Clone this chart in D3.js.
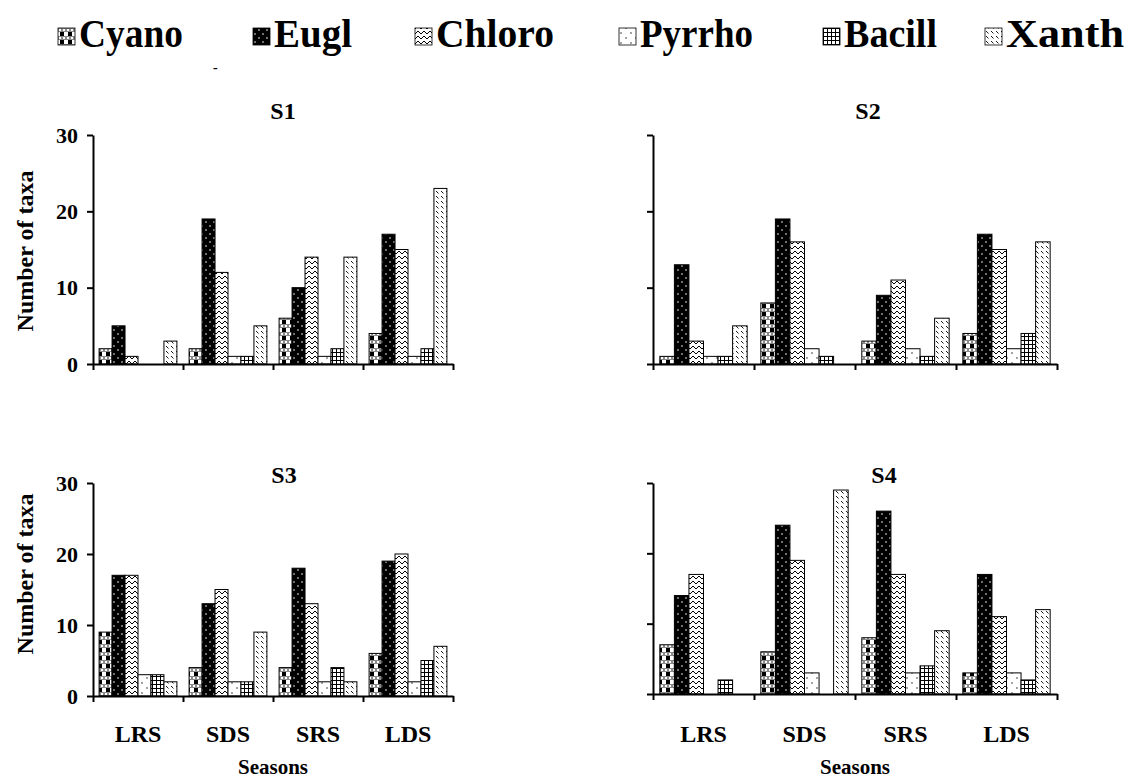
<!DOCTYPE html>
<html><head><meta charset="utf-8">
<script src="https://cdn.jsdelivr.net/npm/d3@7"></script>
<style>
html,body{margin:0;padding:0;background:#fff;}
svg{display:block;}
text{font-family:"Liberation Serif","Times New Roman",serif;font-weight:bold;fill:#000;}
</style></head>
<body>
<svg id="chart" width="1131" height="778"></svg>
<script>
// ---- data ----
const categories = ["LRS", "SDS", "SRS", "LDS"];
const seriesNames = ["Cyano", "Eugl", "Chloro", "Pyrrho", "Bacill", "Xanth"];
const panelNames = ["S1", "S2", "S3", "S4"];
const yTicks = [0, 10, 20, 30];
// values per season: [Cyano, Eugl, Chloro, Pyrrho, Bacill, Xanth]
const s1Values = [[2, 5, 1, 0, 0, 3], [2, 19, 12, 1, 1, 5], [6, 10, 14, 1, 2, 14], [4, 17, 15, 1, 2, 23]];
const s2Values = [[1, 13, 3, 1, 1, 5], [8, 19, 16, 2, 1, 0], [3, 9, 11, 2, 1, 6], [4, 17, 15, 2, 4, 16]];
const s3Values = [[9, 17, 17, 3, 3, 2], [4, 13, 15, 2, 2, 9], [4, 18, 13, 2, 4, 2], [6, 19, 20, 2, 5, 7]];
const s4Values = [[7, 14, 17, 0, 2, 0], [6, 24, 19, 3, 0, 29], [8, 26, 17, 3, 4, 9], [3, 17, 11, 3, 2, 12]];
const yLabel = "Number of taxa";
const xLabel = "Seasons";

const svg = d3.select("#chart");
const defs = svg.append("defs");

// ---- patterns ----
function pat(id, w, h, draw) {
  const p = defs.append("pattern").attr("id", id).attr("patternUnits", "userSpaceOnUse")
    .attr("width", w).attr("height", h);
  draw(p);
}
pat("p0", 8, 8, p => {
  p.append("rect").attr("width", 8).attr("height", 8).attr("fill", "#fff");
  p.append("rect").attr("x", 0).attr("y", 4).attr("width", 8).attr("height", 4).attr("fill", "#8a8a8a");
  p.append("rect").attr("x", 1).attr("y", 5).attr("width", 2).attr("height", 2).attr("fill", "#fff");
  p.append("rect").attr("x", 5).attr("y", 5).attr("width", 2).attr("height", 2).attr("fill", "#fff");
  p.append("rect").attr("x", 2).attr("y", 0).attr("width", 4).attr("height", 4).attr("fill", "#000");
});
pat("p1", 8, 8, p => {
  p.append("rect").attr("width", 8).attr("height", 8).attr("fill", "#000");
  p.append("circle").attr("cx", 2).attr("cy", 2).attr("r", 0.8).attr("fill", "#fff");
  p.append("circle").attr("cx", 6).attr("cy", 6).attr("r", 0.8).attr("fill", "#fff");
});
pat("p2", 6, 5, p => {
  p.append("rect").attr("width", 6).attr("height", 5).attr("fill", "#fff");
  p.append("path").attr("d", "M0,4 L3,1 L6,4").attr("fill", "none").attr("stroke", "#000").attr("stroke-width", 1);
});
pat("p3", 10, 10, p => {
  p.append("rect").attr("width", 10).attr("height", 10).attr("fill", "#fff");
  p.append("circle").attr("cx", 2).attr("cy", 3).attr("r", 0.7).attr("fill", "#000");
  p.append("circle").attr("cx", 7).attr("cy", 8).attr("r", 0.7).attr("fill", "#000");
});
pat("p4", 4, 4, p => {
  p.append("rect").attr("width", 4).attr("height", 4).attr("fill", "#fff");
  p.append("path").attr("d", "M0,0.5 H4 M0.5,0 V4").attr("stroke", "#000").attr("stroke-width", 1);
});
pat("p5", 5, 5, p => {
  p.append("rect").attr("width", 5).attr("height", 5).attr("fill", "#fff");
  p.append("path").attr("d", "M1,1 L3.5,3.5").attr("stroke", "#000").attr("stroke-width", 0.9);
});
const fillFor = d3.scaleOrdinal().domain(seriesNames).range(seriesNames.map((_, i) => `url(#p${i})`));

// ---- legend ----
const legendX = d3.scaleOrdinal().domain(seriesNames).range([58, 253, 415, 619, 823, 985]);
const legendWidths = d3.scaleOrdinal().domain(seriesNames).range([104, 78, 118, 113, 93, 118]);
const lg = svg.append("g");
seriesNames.forEach(s => {
  const g = lg.append("g").attr("transform", `translate(${legendX(s)},0)`);
  g.append("rect").attr("x", 0).attr("y", 28).attr("width", 17).attr("height", 17)
    .attr("fill", fillFor(s)).attr("stroke", "#000").attr("stroke-width", 0.8);
  g.append("text").attr("x", 21).attr("y", 47).attr("font-size", 40)
    .attr("textLength", legendWidths(s)).attr("lengthAdjust", "spacingAndGlyphs").text(s);
});
svg.append("text").attr("x", 213).attr("y", 72).attr("font-size", 14).text("-");

// ---- panels ----
const panelValues = { S1: s1Values, S2: s2Values, S3: s3Values, S4: s4Values };
const layout = {
  S1: { x0: 93, x1: 453, yTop: 135, y0: 364, tickLabels: true, xLabels: false, titleX: 283, titleY: 119, labelY: 251 },
  S2: { x0: 653, x1: 1057, yTop: 135, y0: 364, tickLabels: false, xLabels: false, titleX: 868, titleY: 119, labelY: 251 },
  S3: { x0: 93, x1: 453, yTop: 483, y0: 696, tickLabels: true, xLabels: true, titleX: 284, titleY: 483, labelY: 574 },
  S4: { x0: 653, x1: 1057, yTop: 483, y0: 694, tickLabels: false, xLabels: true, titleX: 884, titleY: 483, labelY: 574 }
};

panelNames.forEach(name => {
  const L = layout[name];
  const vals = panelValues[name];
  const g = svg.append("g");
  const y = d3.scaleLinear().domain([0, 30]).range([L.y0, L.yTop]);
  const x = d3.scaleBand().domain(categories).range([L.x0, L.x1]).paddingInner(0).paddingOuter(0);
  const xb = d3.scaleBand().domain(seriesNames).range([0, x.bandwidth()]).paddingInner(0).paddingOuter(0.47);
  const xLin = d3.scaleLinear().domain([0, categories.length]).range([L.x0, L.x1]);

  categories.forEach((c, ci) => {
    g.append("g").selectAll("rect").data(seriesNames.map((s, si) => ({ s, v: vals[ci][si] })).filter(d => d.v > 0))
      .join("rect")
      .attr("x", d => x(c) + xb(d.s))
      .attr("y", d => y(d.v))
      .attr("width", xb.bandwidth())
      .attr("height", d => y(0) - y(d.v))
      .attr("fill", d => fillFor(d.s))
      .attr("stroke", "#000").attr("stroke-width", 1);
  });

  // y axis
  const ya = g.append("g").attr("transform", `translate(${L.x0},0)`)
    .call(d3.axisLeft(y).tickValues(yTicks).tickSize(6).tickSizeOuter(0).tickPadding(9)
      .tickFormat(L.tickLabels ? d3.format("d") : () => ""));
  // x axis
  const xa = g.append("g").attr("transform", `translate(0,${L.y0})`)
    .call(d3.axisBottom(xLin).tickValues(d3.range(categories.length + 1)).tickSize(6).tickSizeOuter(0).tickFormat(() => ""));
  [ya, xa].forEach(a => {
    a.select(".domain").attr("stroke", "#000").attr("stroke-width", 2);
    a.selectAll(".tick line").attr("stroke", "#000").attr("stroke-width", 2);
    a.selectAll(".tick text").attr("font-size", 22).attr("font-family", "Liberation Serif, serif")
      .attr("font-weight", "bold").attr("fill", "#000");
  });

  // title
  g.append("text").attr("x", L.titleX).attr("y", L.titleY).attr("text-anchor", "middle")
    .attr("font-size", 24).text(name);

  if (L.tickLabels) {
    g.append("text").attr("transform", `translate(33,${L.labelY}) rotate(-90)`)
      .attr("text-anchor", "middle").attr("font-size", 24).text(yLabel);
  }
  if (L.xLabels) {
    g.append("g").selectAll("text").data(categories).join("text")
      .attr("x", d => x(d) + x.bandwidth() / 2).attr("y", 742)
      .attr("text-anchor", "middle").attr("font-size", 24).text(d => d);
    g.append("text").attr("x", (L.x0 + L.x1) / 2).attr("y", 774)
      .attr("text-anchor", "middle").attr("font-size", 21).text(xLabel);
  }
});
</script>
</body></html>
